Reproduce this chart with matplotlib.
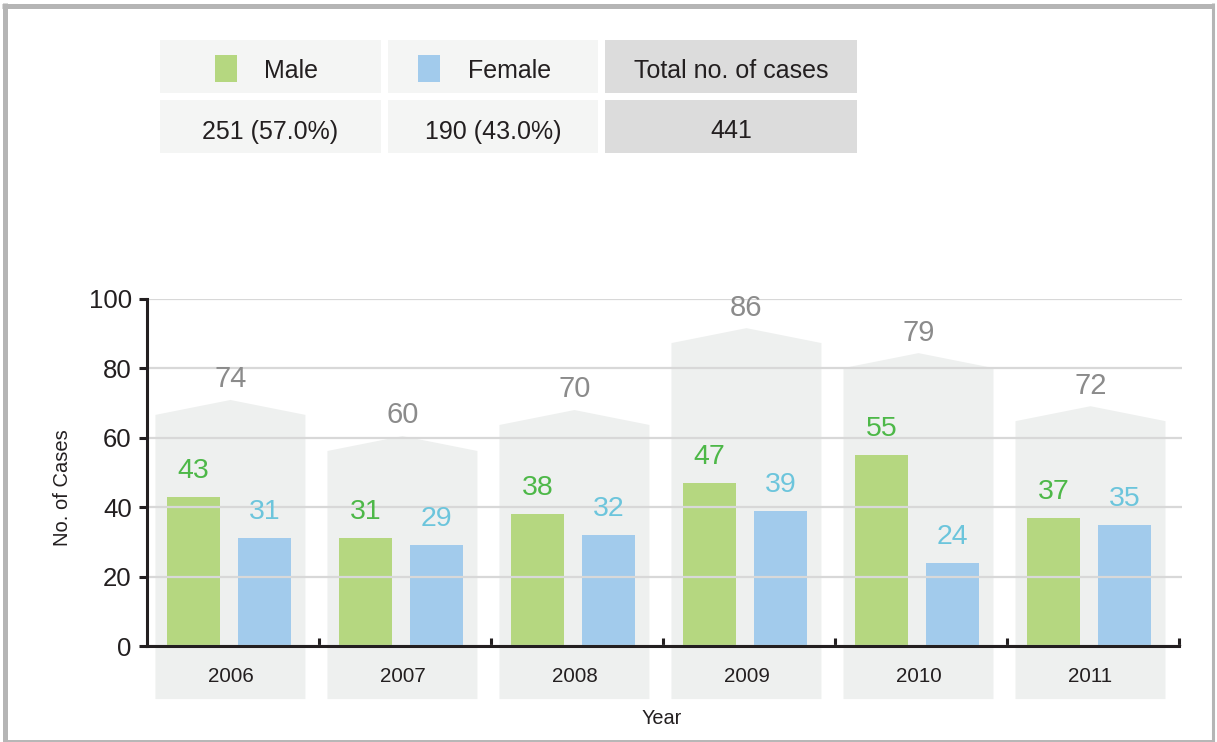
import matplotlib
matplotlib.use("Agg")
import matplotlib.pyplot as plt
from matplotlib.patches import Rectangle, Polygon
from matplotlib.lines import Line2D

years = ["2006", "2007", "2008", "2009", "2010", "2011"]
male = [43, 31, 38, 47, 55, 37]
female = [31, 29, 32, 39, 24, 35]
totals = [74, 60, 70, 86, 79, 72]
# height of the shoulders of the grey "house" behind each year
arch_base = [66.6, 56.2, 63.7, 87.3, 80.1, 64.8]

summary_headers = ["Male", "Female", "Total no. of cases"]
summary_values = ["251 (57.0%)", "190 (43.0%)", "441"]

male_color = "#b5d780"
female_color = "#a2cbec"
male_text = "#4db848"
female_text = "#6cc5dc"
total_text = "#8b8b8b"
house_color = "#eef0ef"
grid_color = "#d8d8d8"
ink = "#231f20"

plt.rcParams["font.family"] = ["Liberation Sans", "DejaVu Sans"]

W, H = 1217, 742
fig = plt.figure(figsize=(W / 100, H / 100), dpi=100)


def fx(px):
    return px / W


def fy(py):
    return 1 - py / H


# outer frame (x pixels, y pixels, width in pt)
frame = [((4.5, 4.5), (3, 742), 3.6),
         ((2, 1214), (5.5, 5.5), 3.6),
         ((1212.5, 1212.5), (3, 742), 2.2),
         ((4.5, 1212.5), (741, 741), 1.4)]
for xs, ys, lw in frame:
    fig.add_artist(Line2D([fx(v) for v in xs], [fy(v) for v in ys],
                          color="#b5b5b5", lw=lw, solid_capstyle="butt",
                          transform=fig.transFigure))

# summary table
cols = [(160, 381), (388, 598), (605, 857)]
rows = [(40, 93), (100, 153)]
for i, (x0, x1) in enumerate(cols):
    fc = "#dcdcdc" if i == 2 else "#f4f5f4"
    for y0, y1 in rows:
        fig.add_artist(Rectangle((fx(x0), fy(y1)), fx(x1 - x0), (y1 - y0) / H,
                                 facecolor=fc, edgecolor="none",
                                 transform=fig.transFigure))
    fig.text(fx((x0 + x1) / 2), fy(sum(rows[1]) / 2 + 5), summary_values[i],
             ha="center", va="center", fontsize=18, color=ink)

hdr_y = fy(sum(rows[0]) / 2 + 5)
for label, color, sq, tx in [(summary_headers[0], male_color, 215, 291),
                             (summary_headers[1], female_color, 418, 510)]:
    fig.add_artist(Rectangle((fx(sq), fy(82)), fx(22), 27 / H,
                             facecolor=color, edgecolor="none",
                             transform=fig.transFigure))
    fig.text(fx(tx), hdr_y, label, ha="center", va="center",
             fontsize=18, color=ink)
fig.text(fx(sum(cols[2]) / 2), hdr_y, summary_headers[2], ha="center",
         va="center", fontsize=18, color=ink)

# chart
ax = fig.add_axes([fx(147), fy(646), fx(1035), 347 / H])
ax.set_xlim(-0.5, 5.517)
ax.set_ylim(0, 100)

half = 0.436
shift = -0.015
peak = 4.3
low = -15.3
for i, yr in enumerate(years):
    c = i + shift
    b = arch_base[i]
    ax.add_patch(Polygon([(c - half, low), (c - half, b), (c, b + peak),
                          (c + half, b), (c + half, low)], closed=True,
                         facecolor=house_color, edgecolor="none",
                         clip_on=False, zorder=0))
    ax.text(c, b + peak + 1.9, str(totals[i]), ha="center", va="bottom",
            fontsize=21, color=total_text)
    ax.text(c, -8.9, yr, ha="center", va="center", fontsize=14.8,
            color=ink)

ax.yaxis.grid(True, color=grid_color, lw=1.6, zorder=1)
ax.set_axisbelow(False)

x = list(range(len(years)))
bw = 0.308
mx = [i - 0.23 for i in x]
fxb = [i + 0.183 for i in x]
ax.bar(mx, male, width=bw, color=male_color, zorder=2)
ax.bar(fxb, female, width=bw, color=female_color, zorder=2)
for i in x:
    ax.text(mx[i], male[i] + 7.5, str(male[i]), ha="center", va="center",
            fontsize=20.5, color=male_text, zorder=3)
    ax.text(fxb[i], female[i] + 7.5, str(female[i]), ha="center",
            va="center", fontsize=20.5, color=female_text, zorder=3)

for s in ["top", "right"]:
    ax.spines[s].set_visible(False)
for s in ["left", "bottom"]:
    ax.spines[s].set_linewidth(2.2)
    ax.spines[s].set_color(ink)
    ax.spines[s].set_zorder(4)
ax.spines["bottom"].set_bounds(-0.5, 5.5)

ax.set_yticks(range(0, 101, 20))
ax.tick_params(axis="y", direction="out", length=6, width=2.2, color=ink,
               labelsize=18.5, labelcolor=ink, pad=5)
ax.set_xticks([k + 0.5 for k in range(6)])
ax.set_xticklabels([])
ax.tick_params(axis="x", direction="in", length=6, width=2.2, color=ink)

fig.text(fx(63), fy(488), "No. of Cases", rotation=90, ha="center",
         va="center", fontsize=14.5, color=ink)
fig.text(fx(662), fy(718), "Year", ha="center", va="center",
         fontsize=14.3, color=ink)

fig.savefig("out.png", dpi=100)
